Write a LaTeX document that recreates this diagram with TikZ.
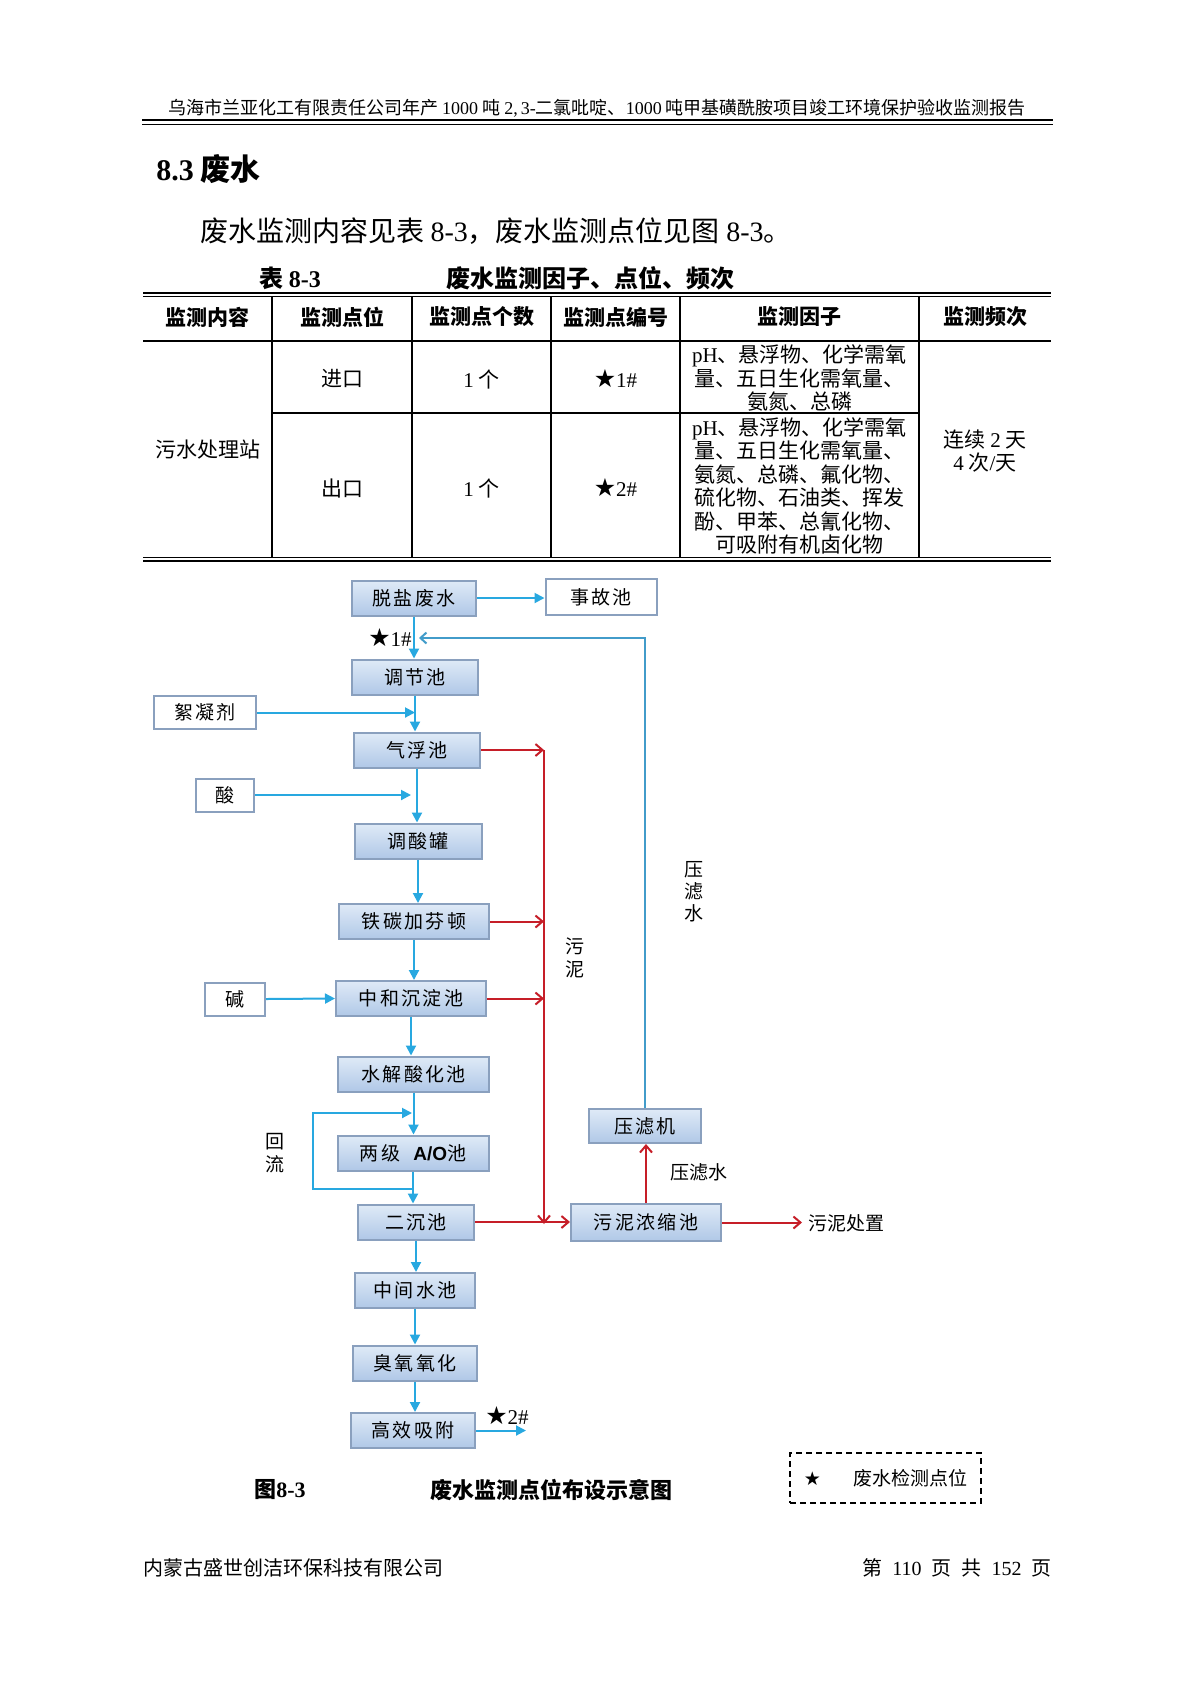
\documentclass[tikz,border=0pt]{standalone}
\usepackage{fontspec}
\setmainfont{Liberation Serif}
\newfontfamily\cjk{Noto Sans CJK SC}
\newfontfamily\cjkbox[LetterSpace=12]{Noto Sans CJK SC}
\newfontfamily\symfont{DejaVu Sans}
\newfontfamily\latinsans{Liberation Sans}
\usetikzlibrary{arrows.meta, positioning, calc}

\newcommand{\latn}[1]{{\rmfamily #1}}
\newcommand{\mstar}{{\symfont\fontsize{12.5}{12}\selectfont ★}}

\definecolor{boxtop}{RGB}{223,234,247}
\definecolor{boxbot}{RGB}{176,200,231}
\definecolor{boxline}{RGB}{138,160,190}
\definecolor{flowblue}{RGB}{40,168,224}
\definecolor{retblue}{RGB}{66,156,202}
\definecolor{sludgered}{RGB}{198,30,40}

\tikzset{
    proc/.style={draw=boxline, line width=1pt, top color=boxtop, bottom color=boxbot,
        minimum height=17.5pt, inner sep=0pt, font=\fontsize{9.5}{11}\selectfont\cjkbox},
    feed/.style={draw=boxline, line width=1pt, fill=white,
        minimum height=16.5pt, inner sep=0pt, font=\fontsize{9.5}{11}\selectfont\cjkbox},
    flow/.style={draw=flowblue, line width=1pt, -{Triangle[length=5pt,width=5pt]}},
    retflow/.style={draw=retblue, line width=1pt, -{Straight Barb[length=3pt,width=5.5pt]}},
    sludge/.style={draw=sludgered, line width=1pt, -{Straight Barb[length=3.5pt,width=6pt]}},
    tag/.style={font=\fontsize{9.5}{11.5}\selectfont\cjk, align=center, inner sep=1pt},
    cell/.style={font=\fontsize{10.5}{11.75}\selectfont\cjk, align=center, inner sep=0pt},
    thead/.style={font=\fontsize{10.5}{12}\selectfont\cjk\bfseries, inner sep=0pt},
}

\begin{document}
\begin{tikzpicture}[x=0.5pt, y=-0.5pt]

            \fill[white] (0,0) rectangle (1190,1683);
            \useasboundingbox (0,0) rectangle (1190,1683);

            % page head
            \node[font=\fontsize{9}{11}\selectfont\cjk, inner sep=0pt] (head) at (597,108)
                {乌海市兰亚化工有限责任公司年产 \latn{1000} 吨 \latn{2,\,3-}二氯吡啶、\latn{1000} 吨甲基磺酰胺项目竣工环境保护验收监测报告};
            \draw[line width=1.2pt] (142,120) -- (1053,120);
            \draw[line width=0.5pt] (142,124.5) -- (1053,124.5);

            \node[anchor=west, font=\fontsize{15}{18}\selectfont\cjk\bfseries, inner sep=0pt] (sec) at (156,169) {\latn{8.3} 废水};
            \node[anchor=west, font=\fontsize{14}{17}\selectfont\cjk, inner sep=0pt] (intro) at (200,231)
                {废水监测内容见表 \latn{8-3}，废水监测点位见图 \latn{8-3}。};
            \node[anchor=west, font=\fontsize{12}{14}\selectfont\cjk\bfseries, inner sep=0pt] (tabno) at (259,278) {表 \latn{8-3}};
            \node[anchor=west, font=\fontsize{12}{14}\selectfont\cjk\bfseries, inner sep=0pt] (tabcap) at (446,278) {废水监测因子、点位、频次};

            % table
            \draw[line width=0.7pt] (143,293) -- (1051,293);
            \draw[line width=0.7pt] (143,296.5) -- (1051,296.5);
            \draw[line width=0.6pt] (143,341) -- (1051,341);
            \draw[line width=0.6pt] (272,413) -- (919,413);
            \draw[line width=0.7pt] (143,557.5) -- (1051,557.5);
            \draw[line width=0.7pt] (143,561) -- (1051,561);
            \foreach \x in {272,412,551,680,919}
                \draw[line width=0.6pt] (\x,296.5) -- (\x,557.5);

            \foreach \i/\x/\t in {1/207.5/监测内容, 2/342/监测点位, 3/481.5/监测点个数,
                                  4/615.5/监测点编号, 5/799.5/监测因子, 6/985/监测频次}
                \node[thead] (th\i) at (\x,317) {\t};

            \node[cell] (site) at (207.5,450) {污水处理站};
            \node[cell] (inlet) at (342,379) {进口};
            \node[cell] (outlet) at (342,488) {出口};
            \node[cell] (numin) at (481.5,379) {\latn{1} 个};
            \node[cell] (numout) at (481.5,488) {\latn{1} 个};
            \node[cell] (idin) at (615.5,379) {\mstar\latn{1\#}};
            \node[cell] (idout) at (615.5,488) {\mstar\latn{2\#}};
            \node[cell] (facin) at (799.5,378) {\latn{pH}、悬浮物、化学需氧\\量、五日生化需氧量、\\氨氮、总磷};
            \node[cell] (facout) at (799.5,486) {\latn{pH}、悬浮物、化学需氧\\量、五日生化需氧量、\\氨氮、总磷、氟化物、\\硫化物、石油类、挥发\\酚、甲苯、总氰化物、\\可吸附有机卤化物};
            \node[cell] (freq) at (985,451) {连续 \latn{2} 天\\\latn{4} 次\latn{/}天};

            % treatment line
            \foreach \name/\x/\y/\w/\txt in {
                desalt/414/598/62/脱盐废水,
                regulate/415/677/63/调节池,
                flotation/417/750/63/气浮池,
                acidtank/418/841/63.5/调酸罐,
                fenton/414/921.5/75/铁碳加芬顿,
                neutral/411/998.5/75/中和沉淀池,
                hydrolysis/413.5/1074/75.5/水解酸化池,
                ao/413/1153/75.5/{两级~~{\latinsans\bfseries A/O}池},
                settle/416/1222/58/二沉池,
                middle/415/1290.5/60/中间水池,
                ozone/415/1363/62/臭氧氧化,
                adsorb/413/1430.5/62/高效吸附}
                \node[proc, minimum width=\w pt] (\name) at (\x,\y) {\txt};

            \node[feed, minimum width=55.5pt, minimum height=18pt] (accident) at (601,597) {事故池};
            \node[feed, minimum width=51pt] (coag) at (205,712.5) {絮凝剂};
            \node[feed, minimum width=29pt] (acid) at (225,795) {酸};
            \node[feed, minimum width=30pt] (alkali) at (235,999) {碱};
            \node[proc, minimum width=56pt, minimum height=17pt] (press) at (645,1126) {压滤机};
            \node[proc, minimum width=75pt, minimum height=18.5pt] (thicken) at (646,1222.5) {污泥浓缩池};

            \node[tag, font=\fontsize{10.5}{12}\selectfont\cjk] (pt1) at (390,638) {\mstar\latn{1\#}};
            \node[tag, font=\fontsize{10.5}{12}\selectfont\cjk] (pt2) at (507,1415) {\mstar\latn{2\#}};
            \node[tag] (sludgelbl) at (575,958) {污\\泥};
            \node[tag, font=\fontsize{9.5}{11}\selectfont\cjk] (filtlbl) at (694,892) {压\\滤\\水};
            \node[tag] (filtlbl2) at (699,1172) {压滤水};
            \node[tag] (refluxlbl) at (275,1153) {回\\流};
            \node[tag, anchor=west, inner sep=3pt] (dispose) at (802,1223) {污泥处置};

            \coordinate (retin) at (419,638);
            \coordinate (sludgetop) at (544,750);
            \coordinate (sludgebot) at (544,1224);
            \coordinate (loopout) at (412,1189);
            \coordinate (loopin) at (412,1113);
            \coordinate (final) at (526,1430);

            \foreach \a/\b in {desalt/regulate, regulate/flotation, flotation/acidtank,
                               acidtank/fenton, fenton/neutral, neutral/hydrolysis,
                               hydrolysis/ao, ao/settle, settle/middle, middle/ozone, ozone/adsorb}
                \draw[flow] (\a.south) -- (\a.south |- \b.north);

            \draw[flow] (desalt.east) -- (desalt.east -| accident.west);
            \draw[flow] (coag.east) -- (coag.east -| regulate.south);
            \draw[flow, shorten >=3pt] (acid.east) -- (acid.east -| flotation.south);
            \draw[flow] (alkali.east) -- (neutral.west);
            \draw[flow] (loopout) -- ++(-99,0) |- (loopin);
            \draw[flow] (adsorb.east) -- (adsorb.east -| final);
            \draw[retflow] (press.north) |- (retin);

            \draw[sludge] (sludgetop) -- (sludgebot);
            \foreach \s in {flotation, fenton, neutral}
                \draw[sludge] (\s.east) -- (\s.east -| sludgetop);
            \draw[sludge] (settle.east) -- (settle.east -| thicken.west);
            \draw[sludge] (thicken.north) -- (thicken.north |- press.south);
            \draw[sludge] (thicken.east) -- (thicken.east -| dispose.west);

            % caption and legend
            \node[font=\fontsize{11}{13}\selectfont\cjk\bfseries, inner sep=0pt] (figno) at (280,1490) {图\latn{8-3}};
            \node[font=\fontsize{11}{13}\selectfont\cjk\bfseries, inner sep=0pt] (figcap) at (551,1490) {废水监测点位布设示意图};
            \node[draw, dashed, dash pattern=on 3pt off 2pt, line width=0.7pt, minimum width=95.5pt,
                  minimum height=25pt, font=\fontsize{9.5}{11}\selectfont\cjk] (legend) at (885.5,1478)
                {{\symfont ★}\hspace{16pt}废水检测点位};

            % page foot
            \node[anchor=west, font=\fontsize{10}{12}\selectfont\cjk, inner sep=0pt] (firm) at (143,1568) {内蒙古盛世创洁环保科技有限公司};
            \node[anchor=east, font=\fontsize{10}{12}\selectfont\cjk, inner sep=0pt] (page) at (1052,1568)
                {第\hspace{5pt}\latn{110}\hspace{5pt}页\hspace{5pt}共\hspace{5pt}\latn{152}\hspace{5pt}页};

        \end{tikzpicture}
\end{document}
